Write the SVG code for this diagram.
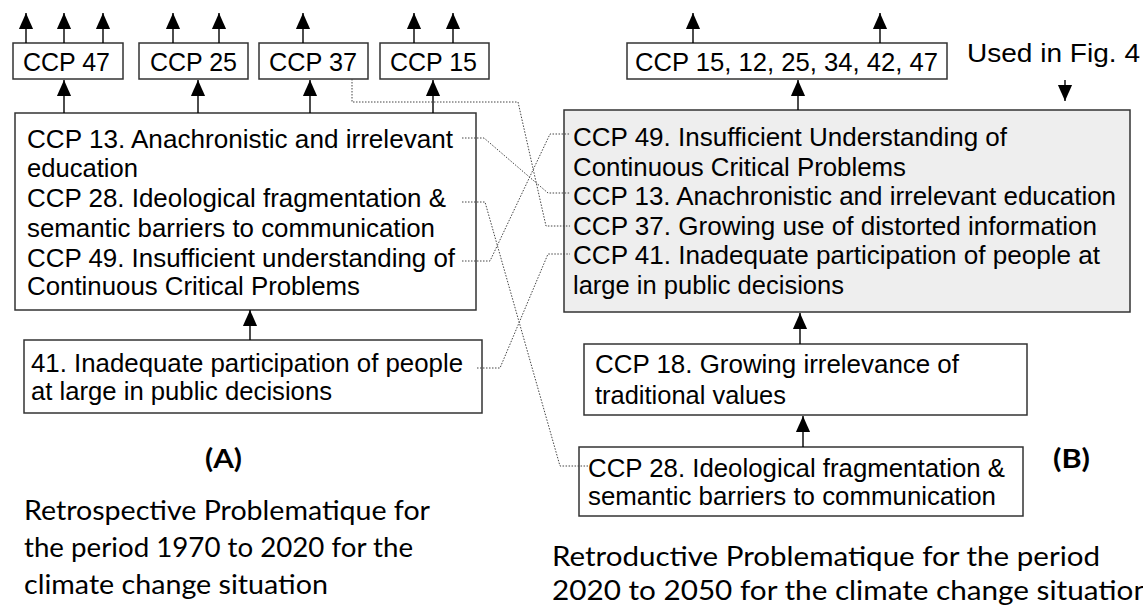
<svg xmlns="http://www.w3.org/2000/svg" width="1143" height="605" viewBox="0 0 1143 605">
  <style>
    .box { fill: #ffffff; stroke: #333333; stroke-width: 1.5; }
    .gbox { fill: #eeeeee; stroke: #333333; stroke-width: 1.5; }
    .t { font-family: "Liberation Sans", Arial, sans-serif; font-size: 26px; fill: #000000; }
    .cap { font-family: Lato, "Open Sans", sans-serif; font-size: 27px; fill: #000000; }
    .lbl { font-family: Lato, "Liberation Sans", sans-serif; font-size: 27px; font-weight: bold; fill: #000000; }
    .arr { stroke: #000000; stroke-width: 1.4; fill: none; marker-end: url(#ah); }
    .dot { fill: none; stroke: #444444; stroke-width: 1; stroke-dasharray: 1.5 1.5; }
  </style>
  <defs>
    <marker id="ah" markerUnits="userSpaceOnUse" markerWidth="16" markerHeight="17" viewBox="0 0 17 16" refX="17" refY="8" orient="auto">
      <path d="M0,0.5 L17,8 L0,15.5 z" fill="#000000"/>
    </marker>
  </defs>

  <rect width="1143" height="605" fill="#ffffff"/>

  <!-- (A) retrospective side: top row of CCPs -->
  <g id="a-ccp47">
    <rect class="box" x="13" y="43" width="110" height="36"/>
    <text class="t" x="23" y="71" textLength="87" lengthAdjust="spacingAndGlyphs">CCP 47</text>
  </g>
  <g id="a-ccp25">
    <rect class="box" x="139" y="43" width="109" height="36"/>
    <text class="t" x="150" y="71" textLength="87" lengthAdjust="spacingAndGlyphs">CCP 25</text>
  </g>
  <g id="a-ccp37">
    <rect class="box" x="259" y="43" width="109" height="36"/>
    <text class="t" x="269" y="71" textLength="88" lengthAdjust="spacingAndGlyphs">CCP 37</text>
  </g>
  <g id="a-ccp15">
    <rect class="box" x="380" y="43" width="109" height="36"/>
    <text class="t" x="390" y="71" textLength="87" lengthAdjust="spacingAndGlyphs">CCP 15</text>
  </g>

  <!-- (A) cluster of CCP 13 / 28 / 49 -->
  <g id="a-cluster">
    <rect class="box" x="15" y="113" width="461" height="197"/>
    <text class="t" x="27" y="148" textLength="426" lengthAdjust="spacingAndGlyphs">CCP 13. Anachronistic and irrelevant</text>
    <text class="t" x="27" y="177" textLength="111" lengthAdjust="spacingAndGlyphs">education</text>
    <text class="t" x="27" y="207" textLength="419" lengthAdjust="spacingAndGlyphs">CCP 28. Ideological fragmentation &amp;</text>
    <text class="t" x="27" y="237" textLength="408" lengthAdjust="spacingAndGlyphs">semantic barriers to communication</text>
    <text class="t" x="27" y="267" textLength="428" lengthAdjust="spacingAndGlyphs">CCP 49. Insufficient understanding of</text>
    <text class="t" x="27" y="295" textLength="333" lengthAdjust="spacingAndGlyphs">Continuous Critical Problems</text>
  </g>

  <!-- (A) CCP 41 -->
  <g id="a-ccp41">
    <rect class="box" x="24" y="340" width="458" height="73"/>
    <text class="t" x="31" y="372" textLength="432" lengthAdjust="spacingAndGlyphs">41. Inadequate participation of people</text>
    <text class="t" x="31" y="400" textLength="301" lengthAdjust="spacingAndGlyphs">at large in public decisions</text>
  </g>

  <g id="a-label">
    <text class="lbl" x="205" y="468" textLength="37" lengthAdjust="spacingAndGlyphs">(A)</text>
  </g>
  <g id="a-caption">
    <text class="cap" x="24" y="520" textLength="406" lengthAdjust="spacingAndGlyphs">Retrospective Problematique for</text>
    <text class="cap" x="24" y="557" textLength="389" lengthAdjust="spacingAndGlyphs">the period 1970 to 2020 for the</text>
    <text class="cap" x="24" y="594" textLength="304" lengthAdjust="spacingAndGlyphs">climate change situation</text>
  </g>

  <!-- (B) retroductive side -->
  <g id="b-top">
    <rect class="box" x="627" y="43" width="320" height="36"/>
    <text class="t" x="635" y="71" textLength="303" lengthAdjust="spacingAndGlyphs">CCP 15, 12, 25, 34, 42, 47</text>
  </g>
  <g id="b-note">
    <text class="t" x="967" y="62" textLength="173" lengthAdjust="spacingAndGlyphs">Used in Fig. 4</text>
  </g>
  <g id="b-cluster">
    <rect class="gbox" x="564" y="110" width="566" height="202"/>
    <text class="t" x="573" y="146" textLength="434" lengthAdjust="spacingAndGlyphs">CCP 49. Insufficient Understanding of</text>
    <text class="t" x="573" y="176" textLength="333" lengthAdjust="spacingAndGlyphs">Continuous Critical Problems</text>
    <text class="t" x="573" y="205" textLength="543" lengthAdjust="spacingAndGlyphs">CCP 13. Anachronistic and irrelevant education</text>
    <text class="t" x="573" y="235" textLength="524" lengthAdjust="spacingAndGlyphs">CCP 37. Growing use of distorted information</text>
    <text class="t" x="573" y="264" textLength="527" lengthAdjust="spacingAndGlyphs">CCP 41. Inadequate participation of people at</text>
    <text class="t" x="573" y="294" textLength="271" lengthAdjust="spacingAndGlyphs">large in public decisions</text>
  </g>
  <g id="b-ccp18">
    <rect class="box" x="584" y="344" width="443" height="71"/>
    <text class="t" x="595" y="373" textLength="364" lengthAdjust="spacingAndGlyphs">CCP 18. Growing irrelevance of</text>
    <text class="t" x="595" y="404" textLength="191" lengthAdjust="spacingAndGlyphs">traditional values</text>
  </g>
  <g id="b-ccp28">
    <rect class="box" x="579" y="447" width="444" height="69"/>
    <text class="t" x="588" y="477" textLength="417" lengthAdjust="spacingAndGlyphs">CCP 28. Ideological fragmentation &amp;</text>
    <text class="t" x="588" y="505" textLength="408" lengthAdjust="spacingAndGlyphs">semantic barriers to communication</text>
  </g>
  <g id="b-label">
    <text class="lbl" x="1053" y="468" textLength="37" lengthAdjust="spacingAndGlyphs">(B)</text>
  </g>
  <g id="b-caption">
    <text class="cap" x="552" y="566" textLength="548" lengthAdjust="spacingAndGlyphs">Retroductive Problematique for the period</text>
    <text class="cap" x="552" y="600" textLength="598" lengthAdjust="spacingAndGlyphs">2020 to 2050 for the climate change situation</text>
  </g>

  <!-- connectors -->
  <g id="connectors">
    <!-- outgoing arrows above the top row -->
    <line class="arr" x1="26" y1="43" x2="26" y2="13"/>
    <line class="arr" x1="64" y1="43" x2="64" y2="13"/>
    <line class="arr" x1="103" y1="43" x2="103" y2="13"/>
    <line class="arr" x1="173" y1="43" x2="173" y2="13"/>
    <line class="arr" x1="219" y1="43" x2="219" y2="13"/>
    <line class="arr" x1="303" y1="43" x2="303" y2="13"/>
    <line class="arr" x1="414" y1="43" x2="414" y2="13"/>
    <line class="arr" x1="453" y1="43" x2="453" y2="13"/>
    <line class="arr" x1="693" y1="43" x2="693" y2="13"/>
    <line class="arr" x1="880" y1="43" x2="880" y2="13"/>

    <!-- cluster (A) into the top row -->
    <line class="arr" x1="64" y1="113" x2="64" y2="80"/>
    <line class="arr" x1="198" y1="113" x2="198" y2="80"/>
    <line class="arr" x1="310" y1="113" x2="310" y2="80"/>
    <line class="arr" x1="433" y1="113" x2="433" y2="80"/>

    <!-- CCP 41 into cluster (A) -->
    <line class="arr" x1="250" y1="340" x2="250" y2="310"/>

    <!-- (B) chain -->
    <line class="arr" x1="798" y1="110" x2="798" y2="80"/>
    <line class="arr" x1="1065" y1="80" x2="1065" y2="101"/>
    <line class="arr" x1="800" y1="344" x2="800" y2="313"/>
    <line class="arr" x1="803" y1="447" x2="803" y2="416"/>

    <!-- dotted cross-links between the two problematiques -->
    <polyline class="dot" points="462,138 484,138 548,193 570,193"/>
    <polyline class="dot" points="352,79 352,102 518,102 546,226 570,226"/>
    <polyline class="dot" points="462,202 485,202 560,466 588,466"/>
    <polyline class="dot" points="462,261 490,261 550,134 570,134"/>
    <polyline class="dot" points="477,368 500,368 548,254 570,254"/>
  </g>
</svg>
